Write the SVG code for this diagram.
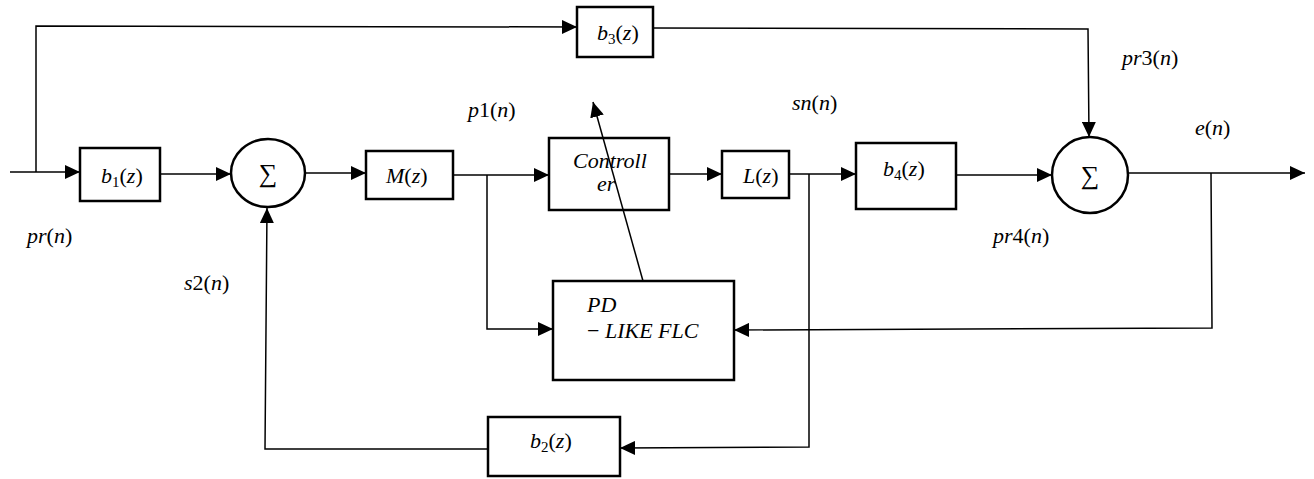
<svg xmlns="http://www.w3.org/2000/svg" width="1314" height="479" viewBox="0 0 1314 479">
<defs>
<marker id="ah" markerUnits="userSpaceOnUse" markerWidth="16" markerHeight="14" refX="15" refY="7" orient="auto">
<path d="M0,0 L15,7 L0,14 Z" fill="#000"/>
</marker>
<style>
.box{fill:#fff;stroke:#000;stroke-width:2.5}
.sum{fill:#fff;stroke:#000;stroke-width:2.5}
.ln{fill:none;stroke:#000;stroke-width:1.5}
.t{font-family:"Liberation Serif","DejaVu Serif",serif;font-style:italic;font-size:22px;fill:#000}
.s{font-family:"Liberation Serif","DejaVu Serif",serif;font-size:26px;fill:#000}
.sub{font-size:15px;font-style:normal}
.u{font-style:normal}
</style>
</defs>
<rect width="1314" height="479" fill="#fff"/>
<g id="b1"><rect class="box" x="80" y="148" width="80" height="53"/><text class="t" x="101" y="183">b<tspan class="sub" dy="4">1</tspan><tspan class="u" dy="-4">(</tspan>z<tspan class="u">)</tspan></text></g>
<g id="sum1"><ellipse class="sum" cx="268" cy="173" rx="37" ry="34"/><text class="s" x="268" y="182" text-anchor="middle">∑</text></g>
<g id="M"><rect class="box" x="366" y="151" width="87" height="48"/><text class="t" x="386" y="183">M<tspan class="u">(</tspan>z<tspan class="u">)</tspan></text></g>
<g id="b3"><rect class="box" x="577" y="7" width="76" height="50"/><text class="t" x="597" y="40">b<tspan class="sub" dy="4">3</tspan><tspan class="u" dy="-4">(</tspan>z<tspan class="u">)</tspan></text></g>
<g id="controller"><rect class="box" x="549" y="138" width="120" height="72"/><text class="t" x="573" y="168">Controll</text><text class="t" x="597" y="191">er</text></g>
<g id="L"><rect class="box" x="722" y="151" width="67" height="47"/><text class="t" x="743" y="183">L<tspan class="u">(</tspan>z<tspan class="u">)</tspan></text></g>
<g id="b4"><rect class="box" x="856" y="143" width="100" height="66"/><text class="t" x="883" y="176">b<tspan class="sub" dy="4">4</tspan><tspan class="u" dy="-4">(</tspan>z<tspan class="u">)</tspan></text></g>
<g id="sum2"><ellipse class="sum" cx="1090" cy="175" rx="38" ry="38"/><text class="s" x="1090" y="184" text-anchor="middle">∑</text></g>
<g id="pd"><rect class="box" x="553" y="281" width="181" height="99"/><text class="t" x="587" y="312">PD</text><text class="t" x="587" y="338"><tspan class="u">−</tspan> LIKE FLC</text></g>
<g id="b2"><rect class="box" x="488" y="417" width="132" height="59"/><text class="t" x="530" y="448">b<tspan class="sub" dy="4">2</tspan><tspan class="u" dy="-4">(</tspan>z<tspan class="u">)</tspan></text></g>
<g id="connectors">
<path class="ln" d="M36,172 L36,26 L577,27" marker-end="url(#ah)"/>
<path class="ln" d="M10,172 L80,172" marker-end="url(#ah)"/>
<path class="ln" d="M160,174 L231,174" marker-end="url(#ah)"/>
<path class="ln" d="M305,173 L366,173" marker-end="url(#ah)"/>
<path class="ln" d="M453,175 L549,175" marker-end="url(#ah)"/>
<path class="ln" d="M487,175 L487,329 L553,329" marker-end="url(#ah)"/>
<path class="ln" d="M669,174 L722,174" marker-end="url(#ah)"/>
<path class="ln" d="M789,174 L856,174" marker-end="url(#ah)"/>
<path class="ln" d="M809,174 L809,447 L620,448" marker-end="url(#ah)"/>
<path class="ln" d="M488,449 L265,449 L267,208" marker-end="url(#ah)"/>
<path class="ln" d="M653,28 L1088,29 L1089,137" marker-end="url(#ah)"/>
<path class="ln" d="M956,175 L1052,175" marker-end="url(#ah)"/>
<path class="ln" d="M1128,173 L1305,173" marker-end="url(#ah)"/>
<path class="ln" d="M1211,173 L1212,328 L734,330" marker-end="url(#ah)"/>
<path class="ln" d="M643,281 L593,102" marker-end="url(#ah)"/>
</g>
<g id="labels">
<text class="t" x="27" y="243">pr<tspan class="u">(</tspan>n<tspan class="u">)</tspan></text>
<text class="t" x="184" y="290">s<tspan class="u">2(</tspan>n<tspan class="u">)</tspan></text>
<text class="t" x="468" y="117">p<tspan class="u">1(</tspan>n<tspan class="u">)</tspan></text>
<text class="t" x="792" y="110">sn<tspan class="u">(</tspan>n<tspan class="u">)</tspan></text>
<text class="t" x="1122" y="65">pr<tspan class="u">3(</tspan>n<tspan class="u">)</tspan></text>
<text class="t" x="1195" y="135">e<tspan class="u">(</tspan>n<tspan class="u">)</tspan></text>
<text class="t" x="993" y="243">pr<tspan class="u">4(</tspan>n<tspan class="u">)</tspan></text>
</g>
</svg>
